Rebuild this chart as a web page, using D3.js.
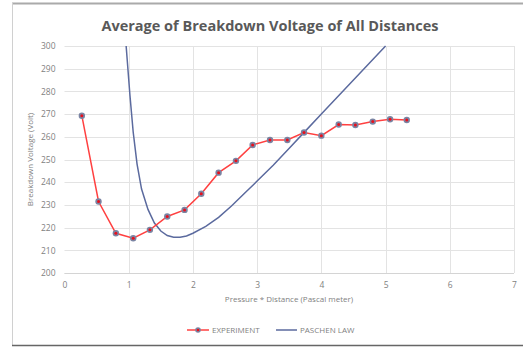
<!DOCTYPE html>
<html>
<head>
<meta charset="utf-8">
<script src="https://cdn.jsdelivr.net/npm/d3@7"></script>
<style>
  body { margin: 0; background: #fff; }
  svg { display: block; font-family: "Open Sans", "Liberation Sans", sans-serif; }
</style>
</head>
<body>
<div class="panel"></div>
<script>
const width = 523;
const height = 347;

// experiment: pressure*distance vs breakdown voltage
const expX = [0.27, 0.53, 0.80, 1.07, 1.33, 1.60, 1.87, 2.13, 2.40, 2.67,
              2.93, 3.20, 3.47, 3.73, 4.00, 4.27, 4.53, 4.80, 5.07, 5.33];
const expY = [269.3, 231.5, 217.5, 215.3, 219, 224.9, 227.8, 234.9, 244.2, 249.4,
              256.4, 258.6, 258.6, 261.9, 260.5, 265.4, 265.2, 266.7, 267.7, 267.4];

// paschen law curve
const paschenX = [0.96, 1.02, 1.07, 1.13, 1.20, 1.30, 1.40, 1.50, 1.60, 1.70, 1.80,
                  1.90, 2.00, 2.20, 2.40, 2.60, 2.80, 3.00, 3.25, 3.50, 3.75, 4.00,
                  4.25, 4.50, 4.75, 5.00];
const paschenY = [300, 278, 262, 248, 237, 228, 222, 218.5, 216.5, 215.8, 215.8,
                  216.3, 217.5, 220.5, 224.5, 229.5, 235, 240.5, 247.5, 255, 262.5, 270,
                  277.5, 285, 292.5, 300];

const xTicks = [0, 1, 2, 3, 4, 5, 6, 7];
const yTicks = [200, 210, 220, 230, 240, 250, 260, 270, 280, 290, 300];

const svg = d3.select(".panel")
    .append("svg")
    .attr("width", width)
    .attr("height", height);

// frame
svg.append("line").attr("x1", 12).attr("x2", width).attr("y1", 3.5).attr("y2", 3.5)
   .attr("stroke", "#aaa").attr("stroke-width", 2);
svg.append("line").attr("x1", 12.5).attr("x2", 12.5).attr("y1", 3).attr("y2", 345)
   .attr("stroke", "#d0d0d0").attr("stroke-width", 1);
svg.append("line").attr("x1", 12).attr("x2", width).attr("y1", 345.5).attr("y2", 345.5)
   .attr("stroke", "#666").attr("stroke-width", 1.5);

const x = d3.scaleLinear().domain([0, 7]).range([64.5, 514]);
const y = d3.scaleLinear().domain([200, 300]).range([273, 46]);

const grid = svg.append("g").attr("stroke", "#e3e3e3").attr("stroke-width", 1);
grid.selectAll(".h").data(yTicks).enter().append("line")
    .attr("x1", x(0)).attr("x2", x(7))
    .attr("y1", d => Math.round(y(d)) + 0.5).attr("y2", d => Math.round(y(d)) + 0.5);
grid.selectAll(".v").data(xTicks.slice(1)).enter().append("line")
    .attr("y1", y(200)).attr("y2", y(300))
    .attr("x1", d => Math.round(x(d)) + 0.5).attr("x2", d => Math.round(x(d)) + 0.5);

svg.append("line").attr("x1", x(0)).attr("x2", x(7))
   .attr("y1", Math.round(y(200)) + 0.5).attr("y2", Math.round(y(200)) + 0.5)
   .attr("stroke", "#d4d4d4");

const yAxis = svg.append("g")
    .attr("transform", `translate(${x(0)},0)`)
    .call(d3.axisLeft(y).tickValues(yTicks).tickSize(0).tickPadding(9));
const xAxis = svg.append("g")
    .attr("transform", `translate(0,${y(200)})`)
    .call(d3.axisBottom(x).tickValues(xTicks).tickFormat(d3.format("d")).tickSize(0).tickPadding(9));
[yAxis, xAxis].forEach(a => {
  a.select(".domain").remove();
  a.selectAll("text").attr("fill", "#7f7f7f").style("font-size", "8.5px")
   .style("font-family", "'Open Sans', sans-serif");
});

svg.append("text")
   .attr("x", 270).attr("y", 31)
   .attr("text-anchor", "middle")
   .attr("fill", "#595959")
   .style("font-size", "14.5px").style("font-weight", "bold")
   .text("Average of Breakdown Voltage of All Distances");

svg.append("text")
   .attr("transform", `translate(33,${y(250)}) rotate(-90)`)
   .attr("text-anchor", "middle")
   .attr("fill", "#7f7f7f").style("font-size", "8px")
   .text("Breakdown Voltage (Volt)");

svg.append("text")
   .attr("x", 289).attr("y", 302)
   .attr("text-anchor", "middle")
   .attr("fill", "#7f7f7f").style("font-size", "8px")
   .text("Pressure * Distance (Pascal meter)");

svg.append("clipPath").attr("id", "plot")
   .append("rect").attr("x", x(0)).attr("y", y(300) - 1)
   .attr("width", x(7) - x(0)).attr("height", y(200) - y(300) + 2);

const defs = svg.append("defs");
const blur = defs.append("filter").attr("id", "shadow").attr("x", "-50%").attr("y", "-50%")
    .attr("width", "200%").attr("height", "200%");
blur.append("feGaussianBlur").attr("stdDeviation", 0.7);

const line = d3.line().x(d => x(d[0])).y(d => y(d[1]));

const paschen = d3.zip(paschenX, paschenY);
svg.append("path")
   .datum(paschen)
   .attr("clip-path", "url(#plot)")
   .attr("fill", "none")
   .attr("stroke", "#5b6a9e")
   .attr("stroke-width", 1.5)
   .attr("d", line);

const experiment = d3.zip(expX, expY);
svg.append("path")
   .datum(experiment)
   .attr("fill", "none")
   .attr("stroke", "#ff4040")
   .attr("stroke-width", 1.5)
   .attr("d", line);

const dots = svg.append("g").selectAll("g").data(experiment).enter().append("g");
dots.append("circle")
    .attr("cx", d => x(d[0])).attr("cy", d => y(d[1]))
    .attr("r", 3.2)
    .attr("fill", "#7a84a3")
    .attr("filter", "url(#shadow)");
dots.append("circle")
    .attr("cx", d => x(d[0])).attr("cy", d => y(d[1]))
    .attr("r", 1.5)
    .attr("fill", "#e8101c");

// legend
const legend = svg.append("g").attr("transform", "translate(0,330)");
legend.append("line").attr("x1", 187).attr("x2", 209).attr("stroke", "#ff4040").attr("stroke-width", 1.5);
legend.append("circle").attr("cx", 198).attr("r", 2.8).attr("fill", "#7a84a3").attr("filter", "url(#shadow)");
legend.append("circle").attr("cx", 198).attr("r", 1.3).attr("fill", "#e8101c");
legend.append("text").attr("x", 212).attr("y", 3).attr("fill", "#7f7f7f").style("font-size", "8px").text("EXPERIMENT");
legend.append("line").attr("x1", 276).attr("x2", 297).attr("stroke", "#5b6a9e").attr("stroke-width", 1.5);
legend.append("text").attr("x", 300).attr("y", 3).attr("fill", "#7f7f7f").style("font-size", "8px").text("PASCHEN LAW");
</script>
</body>
</html>
